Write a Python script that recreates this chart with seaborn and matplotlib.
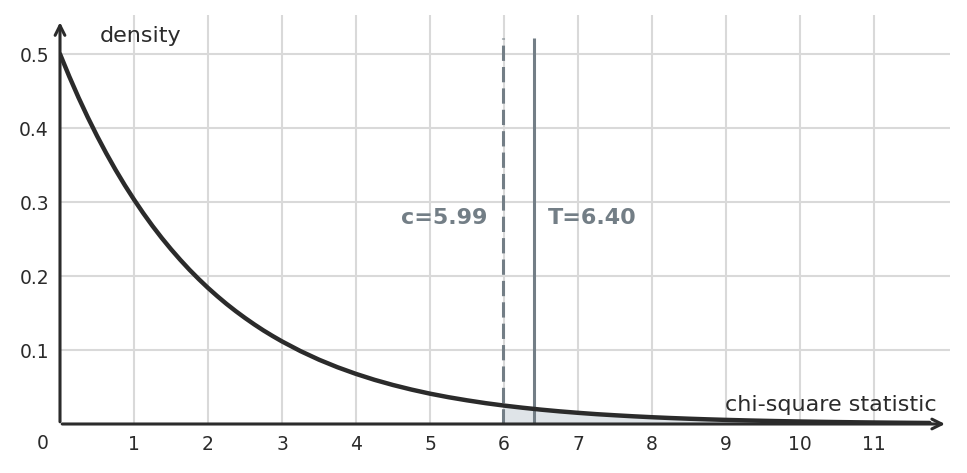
import matplotlib
matplotlib.use("Agg")
import matplotlib.pyplot as plt
import seaborn as sns
import numpy as np
import pandas as pd

# ---- data ----
chi_x = [0, 0.125, 0.25, 0.375, 0.5, 0.625, 0.75, 0.875, 1, 1.125, 1.25, 1.375, 1.5, 1.625,
         1.75, 1.875, 2, 2.125, 2.25, 2.375, 2.5, 2.625, 2.75, 2.875, 3, 3.25, 3.5, 3.75,
         4, 4.25, 4.5, 4.75, 5, 5.25, 5.5, 5.75, 6, 6.25, 6.5, 6.75, 7, 7.25, 7.5, 7.75,
         8, 8.25, 8.5, 8.75, 9, 9.25, 9.5, 9.75, 10, 10.25, 10.5, 10.75, 11, 11.25, 11.5, 11.75]
density = [0.5, 0.4697, 0.4412, 0.4145, 0.3894, 0.3658, 0.3436, 0.3228, 0.3033, 0.2849,
           0.2676, 0.2514, 0.2362, 0.2219, 0.2084, 0.1958, 0.1839, 0.1728, 0.1623, 0.1525,
           0.1433, 0.1346, 0.1264, 0.1188, 0.1116, 0.0985, 0.0869, 0.0767, 0.0677, 0.0597,
           0.0527, 0.0465, 0.0410, 0.0362, 0.0320, 0.0282, 0.0249, 0.0220, 0.0194, 0.0171,
           0.0151, 0.0133, 0.0118, 0.0104, 0.00916, 0.00808, 0.00713, 0.00629, 0.00555,
           0.00490, 0.00432, 0.00381, 0.00337, 0.00297, 0.00262, 0.00231, 0.00204, 0.00180,
           0.00159, 0.00140]
critical_value = 5.99
test_statistic = 6.40
x_ticks = [1, 2, 3, 4, 5, 6, 7, 8, 9, 10, 11]
y_ticks = [0.1, 0.2, 0.3, 0.4, 0.5]
y_tick_labels = ["0.1", "0.2", "0.3", "0.4", "0.5"]
x_label = "chi-square statistic"
y_label = "density"

df = pd.DataFrame({"x": chi_x, "y": density})

sns.set_style("white")
plt.rcParams["font.family"] = ["DejaVu Sans"]

DARK = "#2b2b2b"
GRAY = "#737e86"
GRID = "#d9d9d9"

fig = plt.figure(figsize=(9.67, 4.73), dpi=100)
ax = fig.add_axes([60 / 967, 49 / 473, 890 / 967, 409 / 473])
ax.set_xlim(0, 890 / 74)
ax.set_ylim(0, 409 / 740)

# grid
ax.set_xticks(x_ticks)
ax.set_yticks(y_ticks)
ax.set_yticklabels(y_tick_labels)
ax.grid(True, color=GRID, linewidth=1.5)
ax.set_axisbelow(True)
for s in ax.spines.values():
    s.set_visible(False)
ax.tick_params(axis="both", direction="in", length=4, width=2, color=DARK,
               labelsize=13.5, labelcolor=DARK, pad=8)

# shaded rejection region
mask = df["x"] >= critical_value
ax.fill_between(df.loc[mask, "x"], 0, df.loc[mask, "y"], color="#dfe4e8", zorder=1, linewidth=0)

# vertical lines
ax.vlines(critical_value, 0, 0.522, colors=GRAY, linestyles=(0, (5, 2)), linewidth=2.2, zorder=2)
ax.vlines(test_statistic, 0, 0.522, colors=GRAY, linewidth=2.2, zorder=2)

# curve
sns.lineplot(data=df, x="x", y="y", ax=ax, color=DARK, linewidth=3.2, zorder=3)
ax.set_xlabel("")
ax.set_ylabel("")

# axes with arrows
ax.annotate("", xy=(11.96, 0), xytext=(0.03, 0), xycoords="data",
            arrowprops=dict(arrowstyle="->,head_length=0.7,head_width=0.35", color=DARK, lw=2.2,
                            shrinkA=0, shrinkB=0), annotation_clip=False, zorder=4)
ax.annotate("", xy=(0, 0.543), xytext=(0, 0.003), xycoords="data",
            arrowprops=dict(arrowstyle="->,head_length=0.7,head_width=0.35", color=DARK, lw=2.2,
                            shrinkA=0, shrinkB=0), annotation_clip=False, zorder=4)

# labels
ax.text(-0.23, -0.026, "0", ha="center", va="center", fontsize=13.5, color=DARK, clip_on=False)
ax.text(0.54, 0.525, y_label, ha="left", va="center", fontsize=16, color=DARK)
ax.text(11.85, 0.026, x_label, ha="right", va="center", fontsize=16, color=DARK)
ax.text(5.77, 0.278, f"c={critical_value:.2f}", ha="right", va="center", fontsize=16,
        fontweight="bold", color=GRAY)
ax.text(6.595, 0.278, f"T={test_statistic:.2f}", ha="left", va="center", fontsize=16,
        fontweight="bold", color=GRAY)

fig.savefig("out.png", dpi=100)
